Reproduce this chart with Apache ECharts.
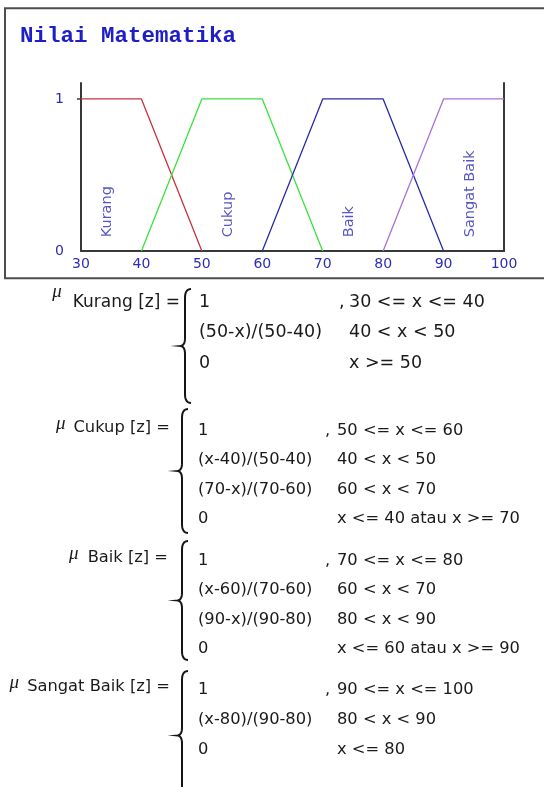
<!DOCTYPE html>
<html>
<head>
<meta charset="utf-8">
<script src="https://cdn.jsdelivr.net/npm/echarts@6/dist/echarts.min.js"></script>
<style>
html, body { margin: 0; padding: 0; background: #fff; }
#chart { width: 544px; height: 787px; }
</style>
</head>
<body>
<div id="chart"></div>
<script>
// ---- data ----
const chartTitle = 'Nilai Matematika';
const xTicks = [30, 40, 50, 60, 70, 80, 90, 100];
const yTicks = [0, 1];
const setNames = ['Kurang', 'Cukup', 'Baik', 'Sangat Baik'];

const kurangX = [30, 40, 50];
const kurangY = [1, 1, 0];
const cukupX = [40, 50, 60, 70];
const cukupY = [0, 1, 1, 0];
const baikX = [60, 70, 80, 90];
const baikY = [0, 1, 1, 0];
const sangatBaikX = [80, 90, 100];
const sangatBaikY = [0, 1, 1];

// membership rules: [expression, condition]
const kurangRules = [['1', '30 <= x <= 40'], ['(50-x)/(50-40)', '40 < x < 50'], ['0', 'x >= 50']];
const cukupRules = [['1', '50 <= x <= 60'], ['(x-40)/(50-40)', '40 < x < 50'], ['(70-x)/(70-60)', '60 < x < 70'], ['0', 'x <= 40 atau x >= 70']];
const baikRules = [['1', '70 <= x <= 80'], ['(x-60)/(70-60)', '60 < x < 70'], ['(90-x)/(90-80)', '80 < x < 90'], ['0', 'x <= 60 atau x >= 90']];
const sangatBaikRules = [['1', '90 <= x <= 100'], ['(x-80)/(90-80)', '80 < x < 90'], ['0', 'x <= 80']];

// ---- styling / layout ----
const lineColors = ['#c8323c', '#3ee03e', '#2a2aa8', '#a473d8'];
const blueText = '#2d2db4';
const axisColor = '#383838';
const formulaFont = '"DejaVu Sans"';
const textColor = '#1a1a1a';

const curves = [
  [kurangX, kurangY], [cukupX, cukupY], [baikX, baikY], [sangatBaikX, sangatBaikY]
];
const rulesList = [kurangRules, cukupRules, baikRules, sangatBaikRules];

const blockLayout = [
  { row0: 302.5, step: 30.3, labelRight: 180, labelDy: 0, muDy: -11, muGap: 11, col1: 199, col2: 349, comma: 339, braceX: 185, braceTop: 289, braceBottom: 403, size: 17.5, labelSize: 17 },
  { row0: 430.5, step: 29.5, labelRight: 170, labelDy: -3, muDy: -4, muGap: 8, col1: 198, col2: 337, comma: 325, braceX: 182, braceTop: 409, braceBottom: 533, size: 16.3, labelSize: 16.3 },
  { row0: 560.5, step: 29.5, labelRight: 168, labelDy: -3, muDy: -4, muGap: 9, col1: 198, col2: 337, comma: 325, braceX: 182, braceTop: 541, braceBottom: 660, size: 16.3, labelSize: 16.3 },
  { row0: 690, step: 30, labelRight: 170, labelDy: -3, muDy: -4, muGap: 8, col1: 198, col2: 337, comma: 325, braceX: 182, braceTop: 671, braceBottom: 800, size: 16.3, labelSize: 16.3 }
];

function zip(xs, ys) { return xs.map((x, i) => [x, ys[i]]); }
function plateauCenter(xs, ys) {
  const top = xs.filter((x, i) => ys[i] === 1);
  return (Math.min(...top) + Math.max(...top)) / 2;
}

const measureCtx = document.createElement('canvas').getContext('2d');
function textWidth(text, font) { measureCtx.font = font; return measureCtx.measureText(text).width; }

function textEl(text, x, y, size, align, extra) {
  const font = (extra && extra.font) || (size + 'px ' + formulaFont);
  return {
    type: 'text', x: x, y: y, silent: true,
    style: {
      text: text, font: font, fill: (extra && extra.fill) || textColor,
      align: align, verticalAlign: 'middle', textAlign: align, textVerticalAlign: 'middle'
    }
  };
}

// curly brace outline as a point list (quadratic segments sampled)
function bracePoints(x, t, b) {
  const m = (t + b) / 2;
  const pts = [];
  function quad(p0, c, p1) {
    for (let k = 0; k <= 8; k++) {
      const s = k / 8, u = 1 - s;
      pts.push([u * u * p0[0] + 2 * u * s * c[0] + s * s * p1[0], u * u * p0[1] + 2 * u * s * c[1] + s * s * p1[1]]);
    }
  }
  quad([x + 6, t], [x, t], [x, t + 9]);
  pts.push([x, m - 8]);
  quad([x, m - 8], [x, m], [x - 5, m]);
  quad([x - 5, m], [x, m], [x, m + 8]);
  pts.push([x, b - 9]);
  quad([x, b - 9], [x, b], [x + 6, b]);
  return pts;
}

// ---- graphic elements: frame, title, formulas ----
const graphics = [
  { type: 'rect', silent: true, z: 0, shape: { x: 5, y: 8.3, width: 620, height: 270 },
    style: { fill: 'none', stroke: '#4d4d4d', lineWidth: 2 } },
  textEl(chartTitle, 20, 36, 22.5, 'left', { font: 'bold 22.5px "Liberation Mono"', fill: '#1e1ec8' })
];

setNames.forEach((name, bi) => {
  const L = blockLayout[bi];
  const rules = rulesList[bi];
  const labelText = name + ' [z] =';
  const labelFont = L.labelSize + 'px ' + formulaFont;
  const labelY = L.row0 + L.labelDy;
  const labelLeft = L.labelRight - textWidth(labelText, labelFont);
  graphics.push(textEl(labelText, L.labelRight, labelY, L.labelSize, 'right'));
  graphics.push(textEl('\u03bc', labelLeft - L.muGap, labelY + L.muDy, 19, 'right', { font: 'italic 19px "Liberation Serif"' }));
  graphics.push({ type: 'polyline', silent: true, shape: { points: bracePoints(L.braceX, L.braceTop, L.braceBottom) },
    style: { fill: 'none', stroke: '#151515', lineWidth: 2 } });
  rules.forEach((r, ri) => {
    const y = L.row0 + ri * L.step;
    graphics.push(textEl(r[0], L.col1, y, L.size, 'left'));
    graphics.push(textEl(r[1], L.col2, y, L.size, 'left'));
    if (ri === 0) graphics.push(textEl(',', L.comma, y, L.size, 'left'));
  });
});

// ---- chart ----
const series = curves.map((c, i) => ({
  name: setNames[i], type: 'line', data: zip(c[0], c[1]),
  symbol: 'none', lineStyle: { color: lineColors[i], width: 1.3 }, z: 3
}));
series.push({
  type: 'scatter', symbolSize: 0, z: 4,
  data: setNames.map((n, i) => ({ name: n, value: [plateauCenter(curves[i][0], curves[i][1]), 0.09] })),
  label: {
    show: true, formatter: '{b}', rotate: 90, position: [-4, 0],
    align: 'left', verticalAlign: 'middle',
    color: blueText, fontFamily: '"DejaVu Sans"', fontSize: 14.5
  }
});

const chart = echarts.init(document.getElementById('chart'), null, { renderer: 'canvas' });
chart.setOption({
  animation: false,
  backgroundColor: '#ffffff',
  grid: { left: 81, top: 83, width: 423, height: 168, containLabel: false },
  xAxis: {
    type: 'value', min: xTicks[0], max: xTicks[xTicks.length - 1], interval: 10,
    axisLine: { show: true, onZero: false, lineStyle: { color: axisColor, width: 2 } },
    axisTick: { show: false },
    splitLine: { show: false },
    axisLabel: { color: blueText, fontFamily: '"DejaVu Sans"', fontSize: 14, margin: 6 }
  },
  yAxis: [
    {
      type: 'value', min: 0, max: 1.105, position: 'left',
      axisLine: { show: true, lineStyle: { color: axisColor, width: 2 } },
      axisTick: { show: true, customValues: [1], length: 4, lineStyle: { color: axisColor, width: 1.5 } },
      splitLine: { show: false },
      axisLabel: { customValues: yTicks, color: blueText, fontFamily: '"DejaVu Sans"', fontSize: 14, margin: 17 }
    },
    {
      type: 'value', min: 0, max: 1.105, position: 'right',
      axisLine: { show: true, lineStyle: { color: axisColor, width: 2 } },
      axisTick: { show: false }, axisLabel: { show: false }, splitLine: { show: false }
    }
  ],
  series: series,
  graphic: graphics
});
</script>
</body>
</html>
